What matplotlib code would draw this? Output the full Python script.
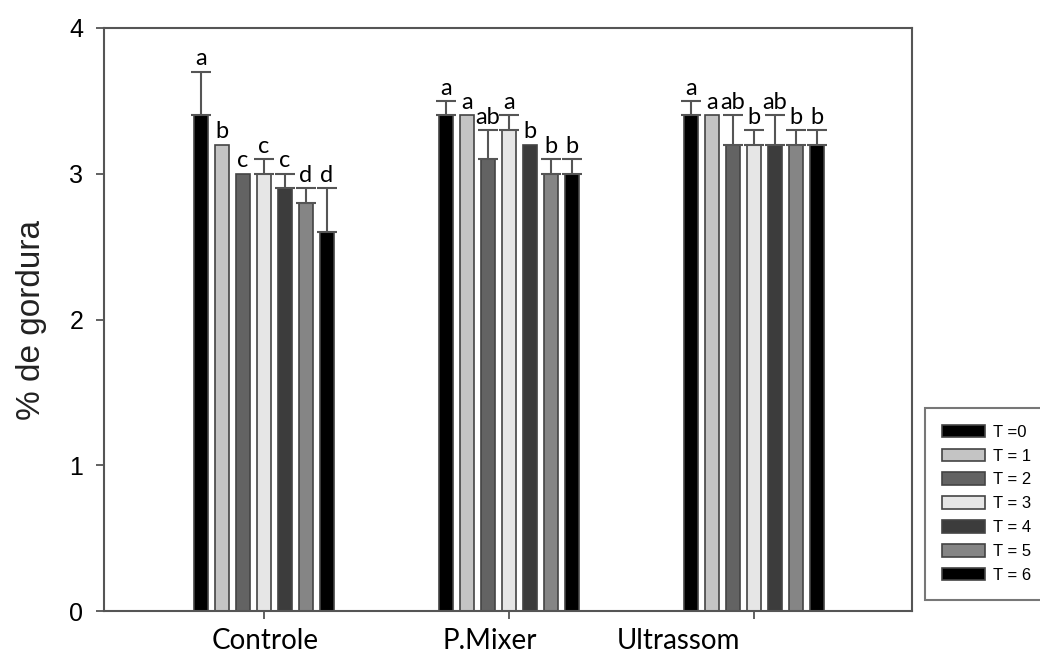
import numpy as np
import matplotlib
matplotlib.use("Agg")
import matplotlib.pyplot as plt
from matplotlib.patches import Patch

# data
groups = ["Controle", "P.Mixer", "Ultrassom"]
times = ["T =0", "T = 1", "T = 2", "T = 3", "T = 4", "T = 5", "T = 6"]

controle = [3.4, 3.2, 3.0, 3.0, 2.9, 2.8, 2.6]
pmixer = [3.4, 3.4, 3.1, 3.3, 3.2, 3.0, 3.0]
ultrassom = [3.4, 3.4, 3.2, 3.2, 3.2, 3.2, 3.2]

controle_err = [0.3, 0.0, 0.0, 0.1, 0.1, 0.1, 0.3]
pmixer_err = [0.1, 0.0, 0.2, 0.1, 0.0, 0.1, 0.1]
ultrassom_err = [0.1, 0.0, 0.2, 0.1, 0.2, 0.1, 0.1]

controle_letters = ["a", "b", "c", "c", "c", "d", "d"]
pmixer_letters = ["a", "a", "ab", "a", "b", "b", "b"]
ultrassom_letters = ["a", "a", "ab", "b", "ab", "b", "b"]

values = np.array([controle, pmixer, ultrassom])
errors = np.array([controle_err, pmixer_err, ultrassom_err])
letters = [controle_letters, pmixer_letters, ultrassom_letters]

colors = ["#000000", "#c4c4c4", "#636363", "#e6e6e6", "#3c3c3c", "#858585", "#000000"]
edge = "#444444"

fig = plt.figure(figsize=(10.4, 6.6), dpi=100)
ax = fig.add_axes([0.1, 0.0742, 0.777, 0.8834])

x = np.arange(len(groups))
slot = 0.0857
width = 0.057

for i in range(len(times)):
    pos = x + (i - 3) * slot
    ax.bar(pos, values[:, i], width, color=colors[i], edgecolor=edge, linewidth=1.2, zorder=2)
    for j in range(len(groups)):
        top = values[j, i]
        if errors[j, i] > 0:
            ax.errorbar(pos[j], top, yerr=[[0], [errors[j, i]]], fmt="none",
                        ecolor="#555555", elinewidth=1.5, capsize=7.5, capthick=1.5, zorder=3)
            top += errors[j, i]
        ax.annotate(letters[j][i], (pos[j], top), xytext=(0, 4.5), textcoords="offset points",
                    ha="center", va="baseline", fontsize=17, family="Lato")

ax.set_xlim(-0.653, 2.645)
ax.set_ylim(0, 4)
ax.set_yticks([0, 1, 2, 3, 4])
ax.set_xticks(x)
ax.set_xticklabels([])
ax.tick_params(axis="y", labelsize=18, length=6, width=1.3, color="#555555", pad=9)
ax.tick_params(axis="x", length=6, width=1.3, color="#555555")
for t in ax.get_yticklabels():
    t.set_family("Liberation Sans")
for s in ax.spines.values():
    s.set_color("#555555")
    s.set_linewidth(1.5)

fig.text(32 / 1040, 1 - 320 / 660, "% de gordura", rotation=90, ha="center", va="center",
         fontsize=24, family="Liberation Sans", color="#222222")

# category names sit below the axis, slightly off the tick positions
label_x = [265, 490, 678]
for name, px in zip(groups, label_x):
    fig.text(px / 1040, 1 - 641 / 660, name, ha="center", va="center", fontsize=20, family="Lato")

handles = [Patch(facecolor=c, edgecolor=edge, linewidth=1.2) for c in colors]
leg = fig.legend(handles, times, loc="upper left", bbox_to_anchor=(925 / 1040, 1 - 408 / 660),
                 fontsize=12, frameon=True, fancybox=False, handlelength=2.6, handleheight=0.8,
                 labelspacing=0.52, borderpad=1.0, borderaxespad=0, handletextpad=0.5)
leg.get_frame().set_edgecolor("#555555")
leg.get_frame().set_linewidth(1.5)
for t in leg.get_texts():
    t.set_family("Liberation Sans")

fig.savefig("out.png", dpi=100)
